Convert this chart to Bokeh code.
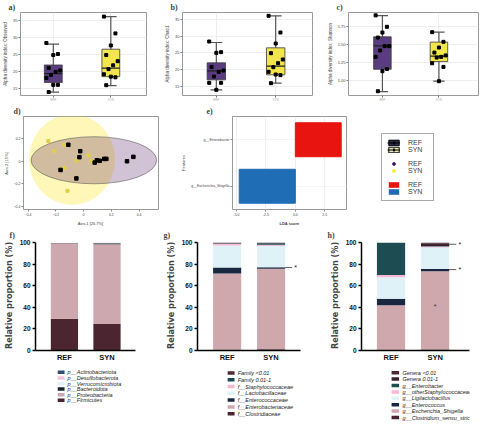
import numpy as np
from bokeh.plotting import figure
from bokeh.layouts import row, column
from bokeh.models import ColumnDataSource, FixedTicker, Legend, LegendItem
from bokeh.core.properties import value
from bokeh.embed import file_html
from bokeh.resources import INLINE

# ---------------- data ----------------
groups = ["REF", "SYN"]
box_colors = ["#5a3d80", "#f2e64c"]

# a) Observed
obs_lo = [14.0, 15.9]; obs_q1 = [16.8, 18.5]; obs_med = [19.4, 21.0]; obs_q3 = [21.9, 26.5]; obs_hi = [28.0, 36.0]
obs_ref = [28.3, 25.1, 24.8, 21.0, 20.3, 19.9, 19.0, 18.1, 16.1, 16.1, 14.0]
obs_syn = [36.0, 31.1, 27.6, 24.8, 23.0, 21.8, 20.7, 19.2, 18.3, 18.5, 16.0]
# b) Chao1
chao_lo = [13.9, 15.9]; chao_q1 = [16.9, 18.4]; chao_med = [19.6, 21.0]; chao_q3 = [22.0, 26.5]; chao_hi = [28.1, 36.1]
chao_ref = [28.4, 25.2, 25.0, 20.7, 19.7, 19.3, 17.9, 16.0, 16.0, 13.9]
chao_syn = [36.1, 31.1, 27.8, 24.9, 23.0, 21.9, 20.7, 19.3, 18.3, 18.5, 15.9]
rich_ticks = [15, 20, 25, 30, 35]
rich_labels = ["15", "20", "25", "30", "35"]
# c) Shannon
sha_lo = [0.845, 0.99]; sha_q1 = [1.156, 1.264]; sha_med = [1.483, 1.34]; sha_q3 = [1.61, 1.536]; sha_hi = [1.906, 1.675]
sha_ref = [1.91, 1.75, 1.67, 1.60, 1.48, 1.48, 1.42, 1.33, 1.16, 1.13, 0.85]
sha_syn = [1.675, 1.54, 1.46, 1.39, 1.35, 1.33, 1.32, 1.24, 1.19, 0.99]
sha_ticks = [1.0, 1.25, 1.5, 1.75]
sha_labels = ["1.00", "1.25", "1.50", "1.75"]

# d) PCoA
pc_ref_x = [-0.110, -0.024, -0.030, 0.096, 0.116, 0.080, 0.149, 0.164, -0.166, -0.052, 0.313, 0.359]
pc_ref_y = [0.146, 0.089, 0.036, 0.009, 0.004, -0.012, 0.021, 0.021, -0.077, -0.152, 0.0, 0.039]
pc_syn_x = [-0.254, -0.210, -0.142, 0.037, -0.138, -0.050, -0.116, 0.059]
pc_syn_y = [0.179, 0.089, 0.146, 0.051, -0.059, 0.006, -0.262, 0.0]
ell_x = [-0.083, 0.074]; ell_y = [0.015, 0.009]
ell_w = [0.62, 0.905]; ell_h = [0.80, 0.417]
ell_colors = ["#fde725", "#440154"]
pc_ticks_x = [-0.4, -0.2, 0.0, 0.2, 0.4]
pc_ticks_y = [-0.4, -0.2, 0.0, 0.2]

# e) LDA
lda_features = ["g__Escherichia_Shigella", "g__Enterobacter"]
lda_scores = [-4.77, 3.9]
lda_colors = ["#1f6db5", "#e8140f"]
lda_ticks = [-5.0, -2.5, 0.0, 2.5]
lda_labels = ["-5.0", "-2.5", "0.0", "2.5"]

# legend panel
key_labels = ["REF", "SYN"]
key_box_colors = ["#2a2b4e", "#e9e6b0"]
key_dot_colors = ["#3d1a6e", "#f7ef3a"]
key_bar_colors = ["#e8140f", "#1f6db5"]

# f) phylum  (stack order bottom -> top)
f_names = ["p__Firmicutes", "p__Proteobacteria", "p__Bacteroidota", "p__Verrucomicrobiota",
           "p__Desulfobacterota", "p__Actinobacteriota"]
f_ref = [29.5, 70.0, 0.2, 0.1, 0.1, 0.1]
f_syn = [24.5, 74.0, 1.0, 0.2, 0.2, 0.1]
f_colors = ["#4b2630", "#cda8ae", "#10232f", "#e3f4f9", "#f2c4dc", "#2f4f6f"]

# g) family
g_names = ["f__Clostridiaceae", "f__Enterobacteriaceae", "f__Enterococcaceae", "f__Lactobacillaceae",
           "f__Staphylococcaceae", "Family 0.01-1", "Family <0.01"]
g_ref = [0.8, 70.6, 5.6, 20.3, 1.6, 0.6, 0.5]
g_syn = [1.2, 74.5, 1.5, 19.8, 1.0, 1.5, 0.5]
g_colors = ["#4a2530", "#cfa8ae", "#1a2740", "#dff2f8", "#f5b8d5", "#1b4a50", "#4e2a38"]
g_sig = [77.0]

# h) genus
h_names = ["g__Clostridium_sensu_stricto_1", "g__Escherichia_Shigella", "g__Enterococcus",
           "g__Ligilactobacillus", "g__otherStaphylococcaceae", "g__Enterobacter",
           "Genera 0.01-1", "Genera <0.01"]
h_ref = [0.5, 41.5, 6.0, 20.0, 2.0, 30.0, 0.0, 0.0]
h_syn = [1.0, 72.5, 2.0, 20.0, 1.0, 0.5, 2.0, 1.0]
h_colors = ["#4a2530", "#cfa8ae", "#1a2740", "#dff2f8", "#f5b8d5", "#1d4d52", "#3b1f2b", "#4a2a35"]
h_sig = [98.5, 75.0]
h_inner = [40.5]

SVG = "svg"
SERIF = "Liberation Serif"
SANS = "Liberation Sans"
NARROW = "'Liberation Sans Narrow', 'DejaVu Sans Condensed', 'Liberation Sans', sans-serif"

# an out-of-view point so that legend-only renderers have one row to draw from
OFF = dict(x=[-99.0], y=[-99.0])


def panel_title(p, text, offset):
    p.title.text = text
    p.title.text_font = SERIF
    p.title.text_font_size = "8px"
    p.title.text_font_style = "bold"
    p.title.align = "left"
    p.title.offset = offset
    p.title.standoff = 1


def jitter(n):
    return np.array([((i * 5) % 7 - 3) * 0.04 for i in range(n)])


def box_fig(title, ylabel, lo, q1, med, q3, hi, ref_pts, syn_pts, yr, ticks, labels,
            xr, width, ml, mr, toff):
    p = figure(width=width, height=104, x_range=xr, y_range=yr, output_backend=SVG,
               toolbar_location=None, min_border_left=ml, min_border_right=mr,
               min_border_top=0, min_border_bottom=2)
    panel_title(p, title, toff)
    xs = np.arange(1, len(groups) + 1)
    p.segment(x0=xs, y0=lo, x1=xs, y1=hi, line_color="#555555", line_width=1.2)
    p.segment(x0=xs - 0.1, y0=lo, x1=xs + 0.1, y1=lo, line_color="#555555", line_width=1.2)
    p.segment(x0=xs - 0.1, y0=hi, x1=xs + 0.1, y1=hi, line_color="#555555", line_width=1.2)
    p.vbar(x=xs, bottom=q1, top=q3, width=0.31, fill_color=box_colors,
           line_color="#3a3a3a", line_width=0.8)
    p.segment(x0=xs - 0.155, y0=med, x1=xs + 0.155, y1=med, line_color="#222222", line_width=1.2)
    p.scatter(x=1 + jitter(len(ref_pts)), y=ref_pts, marker="square", size=3, color="black")
    p.scatter(x=2 + jitter(len(syn_pts)), y=syn_pts, marker="square", size=3, color="black")
    p.outline_line_color = "#9a9a9a"
    p.grid.grid_line_color = "#eeeeee"
    p.xaxis.ticker = FixedTicker(ticks=list(xs))
    p.xaxis.major_label_overrides = {1: groups[0], 2: groups[1]}
    p.xaxis.major_label_text_font_size = "3px"
    p.xaxis.major_label_text_color = "#aaaaaa"
    p.xaxis.major_label_standoff = 1
    p.xgrid.ticker = FixedTicker(ticks=list(xs))
    p.yaxis.ticker = FixedTicker(ticks=ticks)
    p.yaxis.major_label_overrides = {t: l for t, l in zip(ticks, labels)}
    p.yaxis.axis_label = ylabel
    p.yaxis.axis_label_text_font_size = "4.5px"
    p.yaxis.axis_label_text_font_style = "normal"
    p.yaxis.axis_label_text_font = SANS
    p.yaxis.axis_label_standoff = 2
    p.yaxis.major_label_text_font_size = "4px"
    p.yaxis.major_label_standoff = 1
    for ax in (p.xaxis, p.yaxis):
        ax.axis_line_color = None
        ax.major_tick_line_color = "#777777"
        ax.major_tick_out = 2
        ax.major_tick_in = 0
        ax.minor_tick_line_color = None
    return p


pa = box_fig("a)", "Alpha diversity index: Observed", obs_lo, obs_q1, obs_med, obs_q3, obs_hi,
             obs_ref, obs_syn, (13.0, 37.2), rich_ticks, rich_labels, (0.43, 2.62), 162, 12, 16, -12)
pb = box_fig("b)", "Alpha diversity index: Chao1", chao_lo, chao_q1, chao_med, chao_q3, chao_hi,
             chao_ref, chao_syn, (12.2, 37.1), rich_ticks, rich_labels, (0.43, 2.62), 162, 12, 12, -12)
pc = box_fig("c)", "Alpha diversity index: Shannon", sha_lo, sha_q1, sha_med, sha_q3, sha_hi,
             sha_ref, sha_syn, (0.79, 1.95), sha_ticks, sha_labels, (0.40, 2.70), 160, 12, 6, -12)

# ---------------- d) PCoA ----------------
pd_ = figure(width=178, height=124, x_range=(-0.433, 0.54), y_range=(-0.427, 0.396),
             output_backend=SVG, toolbar_location=None, min_border_left=8, min_border_right=20,
             min_border_top=0, min_border_bottom=4)
panel_title(pd_, "d)", -10)
pd_.ellipse(x=ell_x[:1], y=ell_y[:1], width=ell_w[:1], height=ell_h[:1], fill_color=ell_colors[0],
            fill_alpha=0.33, line_color=None)
pd_.ellipse(x=ell_x[1:], y=ell_y[1:], width=ell_w[1:], height=ell_h[1:], fill_color=ell_colors[1],
            fill_alpha=0.24, line_color="#555555", line_alpha=0.7, line_width=0.8)
pd_.scatter(x=pc_syn_x, y=pc_syn_y, marker="square", size=3, color="#e0cf45")
pd_.scatter(x=pc_ref_x, y=pc_ref_y, marker="square", size=3.5, color="black")
pd_.outline_line_color = "#9a9a9a"
pd_.grid.grid_line_color = None
pd_.xaxis.ticker = FixedTicker(ticks=pc_ticks_x)
pd_.yaxis.ticker = FixedTicker(ticks=pc_ticks_y)
pd_.xaxis.axis_label = "Axis.1  [26.7%]"
pd_.yaxis.axis_label = "Axis.2  [15%]"
for ax in (pd_.xaxis, pd_.yaxis):
    ax.axis_line_color = None
    ax.major_tick_line_color = "#888888"
    ax.major_tick_out = 2
    ax.major_tick_in = 0
    ax.minor_tick_line_color = None
    ax.major_label_text_font_size = "3.5px"
    ax.major_label_standoff = 1
    ax.axis_label_text_font_size = "4px"
    ax.axis_label_text_font_style = "normal"
    ax.axis_label_standoff = 2

# ---------------- e) LDA ----------------
pe = figure(width=180, height=124, y_range=lda_features, x_range=(-5.34, 4.35),
            output_backend=SVG, toolbar_location=None, min_border_left=40, min_border_right=12,
            min_border_top=0, min_border_bottom=14)
panel_title(pe, "e)", -26)
pe.hbar(y=lda_features, left=0, right=lda_scores, height=0.73, color=lda_colors)
pe.outline_line_color = "#9a9a9a"
pe.xgrid.grid_line_color = "#eeeeee"
pe.ygrid.grid_line_color = "#f4f4f4"
pe.xaxis.ticker = FixedTicker(ticks=lda_ticks)
pe.xaxis.major_label_overrides = {t: l for t, l in zip(lda_ticks, lda_labels)}
pe.xaxis.axis_label = "LDA score"
pe.yaxis.axis_label = "Features"
for ax in (pe.xaxis, pe.yaxis):
    ax.axis_line_color = None
    ax.major_tick_line_color = "#888888"
    ax.major_tick_out = 2
    ax.major_tick_in = 0
    ax.minor_tick_line_color = None
    ax.major_label_text_font_size = "3.5px"
    ax.major_label_standoff = 1
    ax.axis_label_text_font_size = "4px"
    ax.axis_label_standoff = 2
pe.xaxis.axis_label_text_font_style = "bold"
pe.yaxis.axis_label_text_font_style = "normal"

# ---------------- legend panel ----------------
pk = figure(width=126, height=124, x_range=(0, 1), y_range=(0, 1), output_backend=SVG,
            toolbar_location=None, min_border_left=6, min_border_right=0,
            min_border_top=0, min_border_bottom=0)
pk.axis.visible = False
pk.grid.visible = False
pk.outline_line_color = None
off = ColumnDataSource(OFF)
items = []
for k, lab in enumerate(key_labels):
    r1 = pk.rect(x="x", y="y", width=1, height=1, source=off, fill_color=key_box_colors[k],
                 line_color="black", line_width=1)
    r2 = pk.line(x="x", y="y", source=off, line_color="black", line_width=1)
    r3 = pk.scatter(x="x", y="y", source=off, marker="diamond", size=6, color="black")
    items.append(LegendItem(label=lab, renderers=[r1, r2, r3]))
sp = pk.rect(x="x", y="y", width=1, height=1, source=off, fill_alpha=0, line_alpha=0)
items.append(LegendItem(label=" ", renderers=[sp]))
for k, lab in enumerate(key_labels):
    r = pk.scatter(x="x", y="y", source=off, marker="circle", size=8, color=key_dot_colors[k])
    items.append(LegendItem(label=lab, renderers=[r]))
items.append(LegendItem(label=" ", renderers=[sp]))
for k, lab in enumerate(key_labels):
    r = pk.rect(x="x", y="y", width=1, height=1, source=off, fill_color=key_bar_colors[k],
                line_color=None)
    items.append(LegendItem(label=lab, renderers=[r]))
kleg = Legend(items=items, location="top_left", glyph_width=13, glyph_height=7, spacing=0,
              label_text_font_size="7px", label_text_font=SANS, label_text_color="#444444",
              label_standoff=8, label_height=7, label_width=20, padding=5,
              border_line_color="#555555", border_line_width=1.5,
              background_fill_color="white", margin=17)
pk.add_layout(kleg, "center")


# ---------------- f, g, h stacked bars ----------------
def stack_fig(title, names, ref_vals, syn_vals, colors, xr, width, mr, toff, leg_x, row_h,
              sig=(), inner=()):
    p = figure(width=width, height=136, x_range=xr, y_range=(0, 102), output_backend=SVG,
               toolbar_location=None, min_border_left=4, min_border_right=mr,
               min_border_top=0, min_border_bottom=0)
    panel_title(p, title, toff)
    keys = ["s%d" % i for i in range(len(names))]
    data = {"x": [1, 2]}
    for k, a, b in zip(keys, ref_vals, syn_vals):
        data[k] = [a, b]
    src = ColumnDataSource(data)
    p.vbar_stack(keys, x="x", width=0.64, color=colors, source=src, line_color=None)
    for yv in sig:
        p.segment(x0=[2.32], y0=[yv], x1=[2.48], y1=[yv], line_color="#333333", line_width=0.8)
        p.text(x=[2.56], y=[yv], text=["*"], text_font_size="7px", text_baseline="middle",
               text_align="center", text_color="#222222", text_font=value(SANS))
    for yv in inner:
        p.text(x=[2.0], y=[yv], text=["*"], text_font_size="7px", text_baseline="middle",
               text_align="center", text_color="#333333", text_font=value(SANS))
    p.outline_line_color = None
    p.grid.grid_line_color = None
    p.yaxis.ticker = FixedTicker(ticks=[0, 20, 40, 60, 80, 100])
    p.yaxis.bounds = (0, 100)
    p.yaxis.axis_label = "Relative proportion (%)"
    p.yaxis.axis_label_text_font = NARROW
    p.yaxis.axis_label_text_font_size = "9px"
    p.yaxis.axis_label_text_font_style = "bold"
    p.yaxis.axis_label_standoff = 3
    p.yaxis.major_tick_out = 3
    p.xaxis.major_tick_out = 0
    p.xaxis.ticker = FixedTicker(ticks=[1, 2])
    p.xaxis.major_label_overrides = {1: groups[0], 2: groups[1]}
    for ax in (p.xaxis, p.yaxis):
        ax.axis_line_width = 1.5
        ax.axis_line_color = "black"
        ax.major_tick_line_width = 1.5
        ax.major_tick_in = 0
        ax.minor_tick_line_color = None
        ax.major_label_text_font = SANS
        ax.major_label_text_font_style = "bold"
        ax.major_label_text_color = "#111111"
        ax.major_label_standoff = 2
    p.yaxis.major_label_text_font_size = "6.5px"
    p.xaxis.major_label_text_font_size = "7.5px"

    # key underneath, in its own strip (screen-like units: 1 unit = 1 px)
    H = 58
    q = figure(width=width, height=H, x_range=(0, width), y_range=(0, H), output_backend=SVG,
               toolbar_location=None, min_border=0)
    q.axis.visible = False
    q.grid.visible = False
    q.outline_line_color = None
    rev_names = names[::-1]
    rev_colors = colors[::-1]
    ys = [H - 5 - (i + 0.5) * row_h for i in range(len(rev_names))]
    q.rect(x=[leg_x + 5.5] * len(ys), y=ys, width=11, height=3.5, fill_color=rev_colors,
           line_color=None)
    q.text(x=[leg_x + 16] * len(ys), y=ys, text=rev_names, text_font_size="5.5px",
           text_font_style="italic", text_font=value(SANS), text_color="#222222",
           text_baseline="middle", text_align="left")
    return column(p, q, spacing=0)


pf = stack_fig("f)", f_names, f_ref, f_syn, f_colors, (0.32, 2.67), 162, 27, -26, 36, 5.6)
pg = stack_fig("g)", g_names, g_ref, g_syn, g_colors, (0.325, 2.67), 164, 26, -34, 48, 6.8,
               sig=g_sig)
ph = stack_fig("h)", h_names, h_ref, h_syn, h_colors, (0.33, 2.78), 158, 15, -34, 44, 6.4,
               sig=h_sig, inner=h_inner)

layout = column(row(pa, pb, pc), row(pd_, pe, pk), row(pf, pg, ph))
open("out.html", "w").write(file_html(layout, INLINE))
